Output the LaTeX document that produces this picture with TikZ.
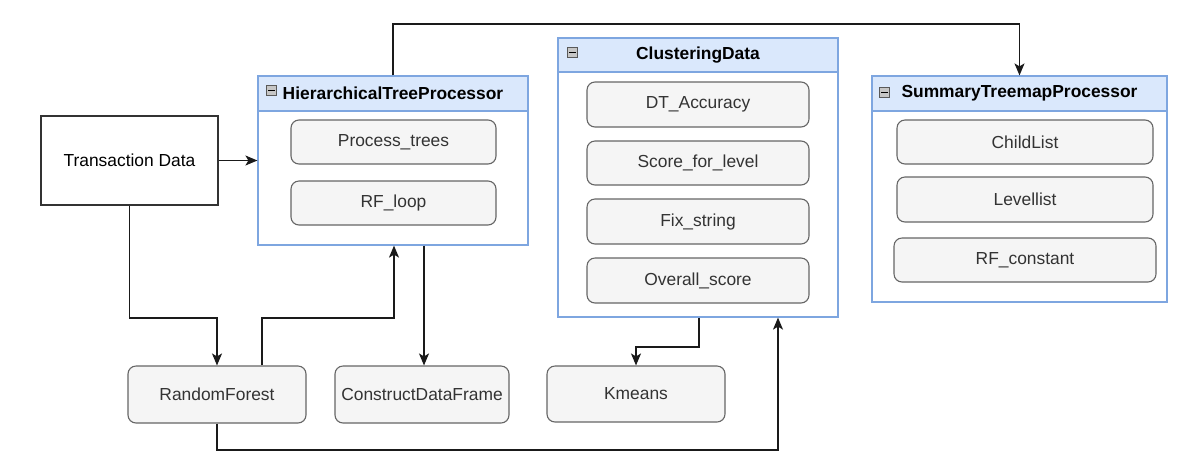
\documentclass[tikz,border=0pt]{standalone}
\usepackage{fontspec}
\setmainfont{Liberation Sans}
\usetikzlibrary{arrows.meta,calc}
\definecolor{hdrfill}{HTML}{DAE8FC}
\definecolor{hdrline}{HTML}{7EA6E0}
\definecolor{subfill}{HTML}{F5F5F5}
\definecolor{subline}{HTML}{666666}
\definecolor{subtext}{HTML}{333333}
\definecolor{wire}{HTML}{1A1A1A}
\begin{document}
\begin{tikzpicture}[x=1pt,y=-1pt,
  lbl/.style={font=\fontsize{17.4}{20}\selectfont},
  container/.style={draw=hdrline, line width=1.2pt, fill=white, inner sep=0pt},
  header/.style={draw=hdrline, line width=1.2pt, fill=hdrfill, inner sep=0pt},
  ttl/.style={font=\bfseries\fontsize{17.4}{20}\selectfont, text=black, inner sep=0pt},
  subbox/.style={draw=subline, line width=1.1pt, fill=subfill, rounded corners=8pt, text=subtext, lbl, inner sep=0pt},
  plainbox/.style={draw=subtext, line width=1.3pt, fill=white, text=black, lbl, inner sep=0pt},
  arr/.style={draw=wire, line width=1.3pt, -{Stealth[length=12pt,width=10pt,inset=3pt]}},
  minusicon/.style={draw=gray!70!black, fill=gray!45, line width=0.6pt}
]
\useasboundingbox (0,0) rectangle (1201,459);
\fill[white] (0,0) rectangle (1201,459);

% ---- containers ----
% HierarchicalTreeProcessor: 258-528, 76-245
\node[container, minimum width=270pt, minimum height=169pt] (htp) at (393,160.5) {};
\node[header, minimum width=270pt, minimum height=35pt] (htph) at (393,93.5) {};
\node[ttl] (htpt) at (393,93.5) {HierarchicalTreeProcessor};
\draw[minusicon] (266.5,85.5) rectangle (276.5,95.5);
\draw[black, line width=1.4pt] (268,90.5) -- (275,90.5);

% ClusteringData: 558-838, 38-317
\node[container, minimum width=280pt, minimum height=279pt] (cd) at (698,177.5) {};
\node[header, minimum width=280pt, minimum height=34pt] (cdh) at (698,55) {};
\node[ttl] (cdt) at (698,55) {ClusteringData};
\draw[minusicon] (567.5,47.5) rectangle (577.5,57.5);
\draw[black, line width=1.4pt] (569,52.5) -- (576,52.5);

% SummaryTreemapProcessor: 872-1167, 76-302
\node[container, minimum width=295pt, minimum height=226pt] (stp) at (1019.5,189) {};
\node[header, minimum width=295pt, minimum height=35pt] (stph) at (1019.5,93.5) {};
\node[ttl] (stpt) at (1019.5,93.5) {SummaryTreemapProcessor};
\draw[minusicon] (879.5,87.5) rectangle (889.5,97.5);
\draw[black, line width=1.4pt] (881,92.5) -- (888,92.5);

% ---- sub boxes ----
\node[subbox, minimum width=205pt, minimum height=44pt] (pt) at (393.5,142) {Process\_trees};
\node[subbox, minimum width=205pt, minimum height=44pt] (rfl) at (393.5,203) {RF\_loop};

\node[subbox, minimum width=222pt, minimum height=45pt] (dta) at (698,104.5) {DT\_Accuracy};
\node[subbox, minimum width=222pt, minimum height=44pt] (sfl) at (698,163) {Score\_for\_level};
\node[subbox, minimum width=222pt, minimum height=45pt] (fs) at (698,221.5) {Fix\_string};
\node[subbox, minimum width=222pt, minimum height=45pt] (os) at (698,280.5) {Overall\_score};

\node[subbox, minimum width=256pt, minimum height=44pt] (cl) at (1025,142) {ChildList};
\node[subbox, minimum width=256pt, minimum height=45pt] (ll) at (1025,199.5) {Levellist};
\node[subbox, minimum width=262pt, minimum height=44pt] (rfc) at (1025,260) {RF\_constant};

% ---- standalone boxes ----
\node[plainbox, minimum width=177pt, minimum height=89pt] (td) at (129.5,160.5) {Transaction Data};
\node[subbox, minimum width=178pt, minimum height=57pt] (rf) at (217,394.5) {RandomForest};
\node[subbox, minimum width=174pt, minimum height=57pt] (cdf) at (422,394.5) {ConstructDataFrame};
\node[subbox, minimum width=178pt, minimum height=56pt] (km) at (636,394) {Kmeans};

% ---- bend coordinates ----
\coordinate (b1) at (217,318);
\coordinate (b2) at (394,318);
\coordinate (b3) at (262,366);
\coordinate (b4) at (1019.5,24);
\coordinate (b5) at (699,347);
\coordinate (b6) at (778,450);

% ---- connectors ----
\draw[arr] (td.east) -- (htp.west |- td.east);
\draw[arr] (td.south) |- (b1) -- (rf.north);
\draw[arr] (b3 |- rf.north) |- (b2) -- (b2 |- htp.south);
\draw[arr] (htp.south -| 424,0) -- (cdf.north -| 424,0);
\draw[arr] (htp.north) |- (b4) -- (stp.north);
\draw[arr] (cd.south -| b5) -- (b5) -| (km.north);
\draw[arr] (rf.south) |- (b6) -- (b6 |- cd.south);
\end{tikzpicture}
\end{document}
